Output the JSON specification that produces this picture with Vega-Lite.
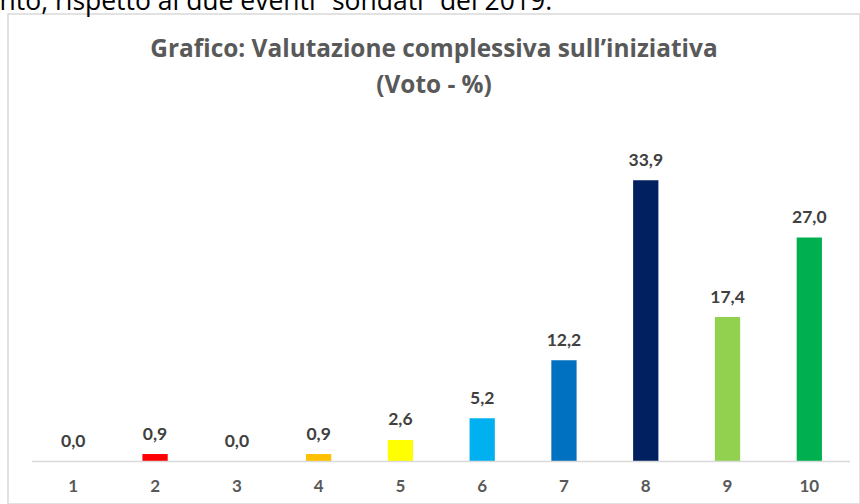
{
  "$schema": "https://vega.github.io/schema/vega-lite/v6.json",
  "width": 852,
  "height": 490,
  "autosize": {"type": "none"},
  "padding": {"left": 8, "top": 14, "right": 0, "bottom": 0},
  "background": "white",
  "config": {
    "view": {"stroke": "#d9d9d9", "strokeWidth": 1.5},
    "locale": {"number": {"decimal": ",", "thousands": ".", "grouping": [3], "currency": ["€", ""]}},
    "font": "Lato"
  },
  "title": {
    "text": ["Grafico: Valutazione complessiva sull’iniziativa", "(Voto - %)"],
    "anchor": "middle",
    "frame": "group",
    "offset": -110,
    "font": "Open Sans",
    "fontSize": 24.4,
    "fontWeight": "bold",
    "color": "#595959",
    "lineHeight": 36
  },
  "data": {
    "values": [
      {"voto": 1, "pct": 0.0},
      {"voto": 2, "pct": 0.9},
      {"voto": 3, "pct": 0.0},
      {"voto": 4, "pct": 0.9},
      {"voto": 5, "pct": 2.6},
      {"voto": 6, "pct": 5.2},
      {"voto": 7, "pct": 12.2},
      {"voto": 8, "pct": 33.9},
      {"voto": 9, "pct": 17.4},
      {"voto": 10, "pct": 27.0}
    ]
  },
  "layer": [
    {
      "mark": {"type": "bar"},
      "encoding": {
        "x": {
          "field": "voto",
          "type": "ordinal",
          "scale": {"paddingInner": 0.691, "paddingOuter": 0.5545, "align": 0.5805},
          "axis": {
            "title": null,
            "orient": "bottom",
            "offset": -42.5,
            "domain": false,
            "ticks": false,
            "grid": false,
            "labelAngle": 0,
            "labelPadding": 25,
            "labelBaseline": "middle",
            "labelFont": "Lato",
            "labelFontSize": 17,
            "labelFontWeight": "bold",
            "labelColor": "#595959"
          }
        },
        "y": {
          "field": "pct",
          "type": "quantitative",
          "scale": {"domain": [-5.12, 53.92], "nice": false, "zero": false},
          "axis": {
            "orient": "left",
            "title": "nto, rispetto ai due eventi “sondati” del 2019.",
            "titleAngle": 0,
            "titleAlign": "left",
            "titleBaseline": "alphabetic",
            "titleX": -9,
            "titleY": -5,
            "titleFont": "Open Sans",
            "titleFontSize": 26.5,
            "titleFontWeight": "normal",
            "titleColor": "#000000",
            "labels": false,
            "ticks": false,
            "domain": false,
            "grid": false
          }
        },
        "y2": {"datum": 0},
        "color": {
          "field": "voto",
          "type": "ordinal",
          "scale": {
            "domain": [1, 2, 3, 4, 5, 6, 7, 8, 9, 10],
            "range": ["#C00000", "#FF0000", "#ED7D31", "#FFC000", "#FFFF00", "#00B0F0", "#0070C0", "#002060", "#92D050", "#00B050"]
          },
          "legend": null
        }
      }
    },
    {
      "data": {"values": [{"from": 1, "to": 10}]},
      "mark": {"type": "rule", "color": "#d9d9d9", "strokeWidth": 1.5},
      "encoding": {
        "x": {"field": "from", "type": "ordinal", "bandPosition": -1.144},
        "x2": {"field": "to", "bandPosition": 2.109},
        "y": {"datum": 0, "type": "quantitative"}
      }
    },
    {
      "mark": {"type": "text", "dy": -14.5, "baseline": "alphabetic", "font": "Lato", "fontSize": 17.5, "fontWeight": "bold", "color": "#404040"},
      "encoding": {
        "x": {"field": "voto", "type": "ordinal"},
        "y": {"field": "pct", "type": "quantitative"},
        "text": {"field": "pct", "type": "quantitative", "format": ".1f"}
      }
    }
  ]
}
